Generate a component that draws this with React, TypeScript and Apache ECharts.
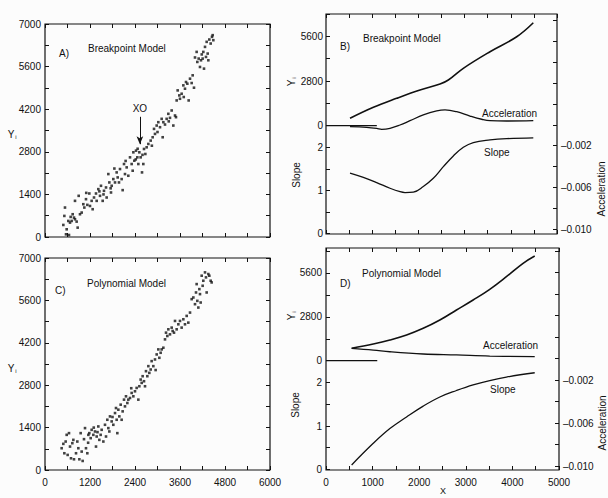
import React, { useEffect, useRef } from "react";
import * as echarts from "echarts";

// ---------- Data ----------
const scatterA: [number, number][] = [
  [489, 396], [516, 693], [533, 968], [578, 253], [560, 88], [640, 66], [622, 528], [667, 473],
  [684, 660], [738, 748], [711, 528], [773, 638], [800, 583], [844, 506], [871, 308], [898, 1353],
  [800, 1188], [933, 748], [978, 803], [1022, 1078], [1049, 968], [1093, 1243], [1129, 1056],
  [1182, 1430], [1244, 1188], [1271, 913], [1307, 1298], [1360, 1430], [1378, 1188], [1422, 1573],
  [1467, 1353], [1493, 1683], [1538, 1188], [1573, 1518], [1627, 1628], [1644, 1298], [1689, 2068],
  [1716, 1793], [1760, 1463], [1778, 1683], [1822, 1903], [1867, 1793], [1911, 2123], [1938, 1958],
  [1973, 1793], [2000, 2233], [2044, 1903], [2071, 1540], [2107, 2398], [2133, 2068], [2178, 2288],
  [2222, 2013], [2267, 2618], [2311, 2398], [2338, 2178], [2356, 2783], [2382, 2508], [2427, 2838],
  [2462, 2618], [2489, 2398], [2516, 2783], [2551, 2618], [2587, 2123], [2622, 2398], [2640, 2893],
  [2676, 2728], [2711, 2948], [2756, 3058], [2818, 3168], [2871, 3278], [2907, 3553], [2933, 3388],
  [2978, 3663], [3022, 3773], [3067, 3608], [3111, 3883], [3138, 3278], [3156, 3773], [3200, 3696],
  [3244, 3883], [3289, 4048], [3333, 3916], [3378, 4158], [3422, 3663], [3467, 3993], [3493, 3938],
  [3511, 4488], [3538, 4818], [3582, 4653], [3600, 4543], [3644, 4708], [3689, 4983], [3733, 4873],
  [3760, 5093], [3796, 5038], [3831, 4488], [3867, 5203], [3911, 5060], [3938, 5313], [3973, 4906],
  [4044, 6083], [4062, 5753], [4098, 5863], [4133, 5588], [4160, 5808], [4204, 5863], [4222, 6083],
  [4240, 5533], [4267, 6248], [4293, 5918], [4311, 6413], [4338, 6028], [4356, 5808], [4382, 6490],
  [4418, 6358], [4453, 6578], [4471, 6633], [4489, 6468], [1100, 1450], [1200, 1020], [1450, 1500],
  [1560, 1400], [1750, 1600], [1850, 2250], [2150, 2500], [2420, 2550], [2470, 2900], [2600, 2700],
  [2850, 3000], [3000, 3450], [3300, 3800], [3700, 4600], [4000, 5900], [4180, 6000]
];

const scatterC: [number, number][] = [
  [444, 719], [489, 863], [516, 553], [551, 940], [578, 1161], [604, 498], [640, 1217], [667, 774],
  [693, 387], [729, 885], [756, 995], [773, 354], [827, 553], [862, 940], [889, 719], [916, 354],
  [951, 1217], [978, 608], [1004, 299], [1040, 1018], [1067, 1383], [1093, 719], [1129, 553],
  [1156, 1161], [1182, 1217], [1218, 1051], [1244, 1327], [1289, 1161], [1333, 1272], [1360, 774],
  [1378, 1106], [1422, 1438], [1449, 995], [1484, 1161], [1511, 1327], [1556, 940], [1600, 1493],
  [1627, 1106], [1662, 1659], [1689, 1383], [1716, 1272], [1733, 1770], [1778, 1604], [1822, 1493],
  [1867, 1880], [1893, 2046], [1911, 1659], [1929, 1217], [1956, 1991], [1982, 1770], [2018, 2157],
  [2044, 1659], [2071, 1936], [2107, 2323], [2133, 2101], [2160, 2433], [2196, 2212], [2222, 2323],
  [2267, 2378], [2311, 2544], [2356, 2433], [2400, 2599], [2444, 2710], [2489, 2323], [2516, 2765],
  [2551, 2986], [2578, 2876], [2604, 3097], [2640, 2931], [2667, 2765], [2693, 3263], [2729, 3097],
  [2756, 3429], [2782, 3207], [2818, 3318], [2844, 3595], [2889, 3429], [2933, 3650], [2978, 3816],
  [3022, 3982], [3049, 3705], [3084, 3871], [3111, 3982], [3156, 4037], [3200, 4313], [3227, 4535],
  [3262, 4424], [3289, 4645], [3333, 4479], [3378, 4701], [3404, 4590], [3440, 4535], [3467, 4922],
  [3511, 4645], [3556, 4811], [3600, 4922], [3644, 4701], [3689, 4977], [3733, 4811], [3778, 5088],
  [3822, 4866], [3867, 5198], [3911, 5641], [3956, 5696], [4000, 5475], [4027, 5862], [4062, 5585],
  [4089, 5364], [4116, 5972], [4133, 5807], [4151, 5530], [4178, 6415], [4204, 6083], [4222, 6249],
  [4267, 6525], [4293, 6360], [4311, 5862], [4356, 6470], [4382, 6415], [4418, 6249], [4444, 6194],
  [4044, 6138], [1300, 1400], [1150, 900], [1400, 1250], [1800, 1750], [2300, 2700], [2950, 3300]
];

const zeroSegment: [number, number][] = [[0, 0], [1100, 0]];

const bFitY: [number, number][] = [
  [520, 464], [1026, 1153], [1530, 1717], [2035, 2237], [2468, 2613], [2648, 2863], [2972, 3596],
  [3550, 4637], [4128, 5576], [4487, 6454]
];
const bAccel: [number, number][] = [
  [520, -0.00018], [880, -0.00024], [1097, -0.00034], [1205, -0.00043], [1385, -0.00034],
  [1602, -0.00002], [1818, 0.00039], [2106, 0.00094], [2396, 0.00132], [2576, 0.00142],
  [2829, 0.00125], [3117, 0.00084], [3370, 0.00053], [3550, 0.00039], [3911, 0.00036], [4487, 0.00039]
];
const bSlope: [number, number][] = [
  [520, 1.4], [808, 1.3], [1097, 1.18], [1385, 1.05], [1602, 0.97], [1710, 0.95], [1890, 0.96],
  [2106, 1.09], [2323, 1.28], [2540, 1.55], [2756, 1.8], [2973, 2.0], [3189, 2.11], [3550, 2.17],
  [3911, 2.2], [4487, 2.22]
];

const dFitY: [number, number][] = [
  [550, 791], [1014, 1065], [1371, 1320], [1729, 1639], [2086, 2066], [2443, 2595], [2800, 3233],
  [3157, 3871], [3514, 4553], [3871, 5357], [4229, 6212], [4479, 6677]
];
const dAccel: [number, number][] = [
  [550, 0.00095], [1014, 0.00079], [1371, 0.00063], [2086, 0.00042], [2800, 0.00033],
  [3514, 0.00023], [4479, 0.00017]
];
const dSlope: [number, number][] = [
  [550, 0.1], [1014, 0.6], [1371, 0.94], [1729, 1.21], [2086, 1.46], [2443, 1.67], [2800, 1.82],
  [3157, 1.95], [3514, 2.05], [3871, 2.13], [4479, 2.23]
];

const yiTicks = [0, 1400, 2800, 4200, 5600, 7000];
const yiLabels = [0, 2800, 5600];
const slopeTicks = [0, 0.5, 1, 1.5, 2];
const slopeLabels = [0, 1, 2];
const accelTicks = [-0.01, -0.008, -0.006, -0.004, -0.002, 0, 0.002, 0.004, 0.006, 0.008, 0.01];
const accelLabels = [-0.01, -0.006, -0.002];
const xoMark = { x: 2530, yFrom: 3950, yTo: 3050 };

// ---------- Styles ----------
const INK = "#111";
const FONT = "Liberation Sans";
const tick = { show: true, inside: true, length: 4, lineStyle: { color: INK, width: 1 } };
const noLine = { show: false, onZero: false };
const lbl = { color: INK, fontFamily: FONT, fontSize: 10 };
const plain = (v: number) => String(v);
const accFmt = (v: number) => (v < 0 ? "\u2013" : "") + Math.abs(v).toFixed(3);

function xAx(grid: number, max: number, step: number, labelStep: number | null, top = false) {
  return {
    type: "value", gridIndex: grid, min: 0, max, interval: step, position: top ? "top" : "bottom",
    axisLine: noLine, axisTick: tick, splitLine: { show: false },
    axisLabel: labelStep
      ? { ...lbl, margin: 7, formatter: (v: number) => (v % labelStep === 0 ? String(v) : "") }
      : { show: false },
  };
}

function yiLabel(x: number, y: number, rot = 0) {
  return {
    type: "group", x, y, rotation: rot,
    children: [
      { type: "text", style: { text: "Y", x: 0, y: 0, align: "center", verticalAlign: "middle", fontFamily: FONT, fontSize: 10, fill: INK } },
      { type: "text", style: { text: "i", x: 5, y: 3, align: "center", verticalAlign: "middle", fontFamily: FONT, fontSize: 6, fill: INK } },
    ],
  };
}
function txt(text: string, x: number, y: number, extra: any = {}) {
  return { type: "text", x, y, rotation: extra.rotation || 0, style: { text, x: 0, y: 0, align: extra.align || "left", verticalAlign: "middle", fontFamily: FONT, fontSize: extra.fontSize || 10, fill: INK, ...(extra.style || {}) } };
}

export default function App() {
  const ref = useRef<HTMLDivElement>(null);
  useEffect(() => {
    if (!ref.current) return;
    const chart = echarts.init(ref.current, undefined, { renderer: "svg" });
    const gridBase = { show: true, borderColor: INK, borderWidth: 1.2, backgroundColor: "transparent", containLabel: false };
    const lineS = (data: any, xi: number, yi: number, w = 1.3) => ({
      type: "line", data, xAxisIndex: xi, yAxisIndex: yi, smooth: 0.4, showSymbol: false, symbol: "none",
      lineStyle: { color: INK, width: w }, silent: true,
    });
    const yLeft7000 = (grid: number) => ({ type: "value", gridIndex: grid, min: 0, max: 7000, interval: 700, position: "left", axisLine: noLine, axisTick: tick, splitLine: { show: false }, axisLabel: { ...lbl, margin: 4, formatter: (v: number) => (v % 1400 === 0 ? String(v) : "") } });
    const yRight7000 = (grid: number) => ({ type: "value", gridIndex: grid, min: 0, max: 7000, interval: 700, position: "right", axisLine: noLine, axisTick: tick, splitLine: { show: false }, axisLabel: { show: false } });
    const custom = (grid: number, min: number, max: number, pos: string, ticks: number[], labels: number[], fmt: any, margin: number) => ({
      type: "value", gridIndex: grid, min, max, position: pos, axisLine: noLine, splitLine: { show: false },
      axisTick: { ...tick, customValues: ticks }, axisLabel: { ...lbl, margin, customValues: labels, formatter: fmt },
    });
    const option: any = {
      animation: false,
      backgroundColor: "#fcfcfc",
      grid: [
        { ...gridBase, left: 45, top: 24, width: 225, height: 213 },
        { ...gridBase, left: 45, top: 258, width: 225, height: 212 },
        { ...gridBase, left: 326, top: 14, width: 231, height: 220 },
        { ...gridBase, left: 326, top: 248, width: 233, height: 222 },
      ],
      xAxis: [
        xAx(0, 6000, 600, null), xAx(0, 6000, 600, null, true),
        xAx(1, 6000, 600, 1200), xAx(1, 6000, 600, null, true),
        xAx(2, 5000, 500, null), xAx(2, 5000, 500, null, true),
        xAx(3, 5000, 500, 1000), xAx(3, 5000, 500, null, true),
      ],
      yAxis: [
        yLeft7000(0), yRight7000(0), yLeft7000(1), yRight7000(1),
        custom(2, -6787, 7000, "left", yiTicks, yiLabels, plain, 3),
        custom(2, -0.012, 5.093, "left", slopeTicks, slopeLabels, plain, 3),
        custom(2, -0.01045, 0.0106, "right", accelTicks, accelLabels, accFmt, 4),
        custom(3, -6971, 7188, "left", yiTicks, yiLabels, plain, 4),
        custom(3, -0.016, 5.111, "left", slopeTicks, slopeLabels, plain, 4),
        custom(3, -0.01037, 0.01028, "right", accelTicks, accelLabels, accFmt, 4),
      ],
      series: [
        {
          type: "scatter", data: scatterA, xAxisIndex: 0, yAxisIndex: 0, symbol: "rect", symbolSize: 2.6,
          itemStyle: { color: INK }, silent: true,
          markLine: {
            silent: true, symbol: ["none", "arrow"], symbolSize: [5, 8],
            lineStyle: { color: INK, width: 1, type: "solid" },
            label: { show: true, position: "start", formatter: "XO", color: INK, fontFamily: FONT, fontSize: 10, distance: 3 },
            data: [[{ coord: [xoMark.x, xoMark.yFrom] }, { coord: [xoMark.x, xoMark.yTo] }]],
          },
        },
        { type: "scatter", data: scatterC, xAxisIndex: 2, yAxisIndex: 2, symbol: "rect", symbolSize: 2.6, itemStyle: { color: INK }, silent: true },
        lineS(zeroSegment, 4, 4),
        lineS(bFitY, 4, 4, 1.6),
        lineS(bAccel, 4, 6),
        lineS(bSlope, 4, 5),
        lineS(zeroSegment, 6, 7),
        lineS(dFitY, 6, 7, 1.6),
        lineS(dAccel, 6, 9),
        lineS(dSlope, 6, 8),
      ],
      graphic: [
        txt("A)", 59, 53), txt("Breakpoint Model", 88, 48),
        txt("C)", 55, 290), txt("Polynomial Model", 87, 283),
        txt("B)", 340, 46), txt("Breakpoint Model", 363, 38),
        txt("Acceleration", 482, 113), txt("Slope", 484, 152),
        txt("D)", 340, 283), txt("Polynomial Model", 362, 273),
        txt("Acceleration", 483, 345), txt("Slope", 490, 389),
        yiLabel(11, 134), yiLabel(11, 368),
        yiLabel(291, 83, Math.PI / 2), yiLabel(291, 317, Math.PI / 2),
        txt("Slope", 296, 175, { rotation: Math.PI / 2, align: "center" }),
        txt("Slope", 295, 405, { rotation: Math.PI / 2, align: "center" }),
        txt("Acceleration", 601, 189, { rotation: Math.PI / 2, align: "center", style: { letterSpacing: 1 } }),
        txt("Acceleration", 602, 423, { rotation: Math.PI / 2, align: "center", style: { letterSpacing: 1 } }),
        txt("X", 443, 491, { align: "center", fontSize: 9 }),
      ],
    };
    chart.setOption(option);
    return () => chart.dispose();
  }, []);
  return <div ref={ref} style={{ position: "fixed", left: 0, top: 0, width: 608, height: 498 }} />;
}
